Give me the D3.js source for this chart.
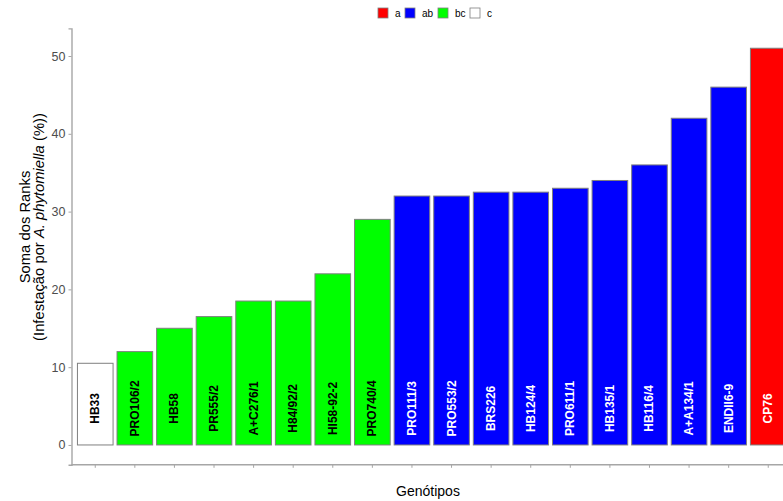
<!DOCTYPE html>
<html>
<head>
<meta charset="utf-8">
<script src="https://cdn.jsdelivr.net/npm/d3@7"></script>
<style>
  html, body { margin: 0; padding: 0; background: #fff; }
  svg { display: block; font-family: "Liberation Sans", Arial, sans-serif; }
</style>
</head>
<body>
<svg id="chart" width="783" height="501"></svg>
<script>
// Genotypes, ordered by rank sum
const genotypes = ["HB33", "PRO106/2", "HB58", "PR555/2", "A+C276/1", "H84/92/2", "HI58-92-2", "PRO740/4",
  "PRO111/3", "PRO553/2", "BRS226", "HB124/4", "PRO611/1", "HB135/1", "HB116/4", "A+A134/1", "ENDII6-9", "CP76"];
// Rank sums (infestation by A. phytomiella)
const rankSums = [10.5, 12, 15, 16.5, 18.5, 18.5, 22, 29, 32, 32, 32.5, 32.5, 33, 34, 36, 42, 46, 51];
// Statistical groups for each genotype
const groups = ["c", "bc", "bc", "bc", "bc", "bc", "bc", "bc",
  "ab", "ab", "ab", "ab", "ab", "ab", "ab", "ab", "ab", "a"];
// Legend entries and fill colours
const groupLevels = ["a", "ab", "bc", "c"];
const groupColors = ["#FF0000", "#0000FF", "#00FF00", "#FFFFFF"];
const yTicks = [0, 10, 20, 30, 40, 50];

const data = genotypes.map((g, i) => ({ name: g, value: rankSums[i], group: groups[i] }));

const svg = d3.select("#chart");
const fill = d3.scaleOrdinal().domain(groupLevels).range(groupColors);
const labelColor = d3.scaleOrdinal().domain(groupLevels).range(["#FFFFFF", "#FFFFFF", "#000000", "#000000"]);

const maxV = d3.max(rankSums);
const pad = maxV * 0.05;
const y = d3.scaleLinear().domain([-pad, maxV + pad]).range([464.8, 28.4]);
const x = d3.scaleBand().domain(genotypes).range([71.5, 792]).paddingInner(0.1).paddingOuter(0.15);

// Bars
svg.append("g").selectAll("rect").data(data).join("rect")
  .attr("x", d => x(d.name))
  .attr("width", x.bandwidth())
  .attr("y", d => y(d.value))
  .attr("height", d => y(0) - y(d.value))
  .attr("fill", d => fill(d.group))
  .attr("stroke", "#7f7f7f")
  .attr("stroke-width", 1);

// Genotype names written inside the bars
svg.append("g").selectAll("text").data(data).join("text")
  .attr("transform", d => `translate(${x(d.name) + x.bandwidth() / 2},${y(4.7)}) rotate(-90)`)
  .attr("text-anchor", "middle")
  .attr("dominant-baseline", "central")
  .attr("font-size", 12)
  .attr("font-weight", "bold")
  .attr("fill", d => labelColor(d.group))
  .text(d => d.name);

// Y axis
const yAxis = svg.append("g").attr("transform", "translate(71.5,0)")
  .call(d3.axisLeft(y).tickValues(yTicks).tickSize(3).tickPadding(3));
yAxis.select(".domain").attr("stroke", "#a6a6a6").attr("stroke-width", 1.4);
yAxis.selectAll(".tick line").attr("stroke", "#a6a6a6");
yAxis.selectAll(".tick text").attr("fill", "#4d4d4d").attr("font-size", 12.5)
  .style("font-family", "'Liberation Sans', Arial, sans-serif");

// X axis (ticks only, no labels)
const xAxis = svg.append("g").attr("transform", "translate(0,464.8)")
  .call(d3.axisBottom(x).tickSize(3).tickFormat(""));
xAxis.select(".domain").attr("stroke", "#a6a6a6").attr("stroke-width", 1.4)
  .attr("d", "M71.5,0H792");
xAxis.selectAll(".tick line").attr("stroke", "#a6a6a6");

// Axis titles
svg.append("text")
  .attr("x", 428).attr("y", 496)
  .attr("text-anchor", "middle")
  .attr("font-size", 14)
  .attr("fill", "#000")
  .text("Genótipos");

const yTitle = svg.append("text")
  .attr("transform", "translate(0,227) rotate(-90)")
  .attr("text-anchor", "middle")
  .attr("font-size", 14.8)
  .attr("fill", "#000");
yTitle.append("tspan").attr("x", 0).attr("y", 29.5).text("Soma dos Ranks");
const line2 = yTitle.append("tspan").attr("x", 0).attr("y", 43.5);
line2.append("tspan").text("(Infestação por ");
line2.append("tspan").attr("font-style", "italic").text("A. phytomiella");
line2.append("tspan").text(" (%))");

// Legend
const legendX = [378, 405, 438, 470];
const legend = svg.append("g").selectAll("g").data(groupLevels).join("g")
  .attr("transform", (d, i) => `translate(${legendX[i]},8)`);
legend.append("rect")
  .attr("width", 10).attr("height", 10)
  .attr("fill", d => fill(d))
  .attr("stroke", "#7f7f7f").attr("stroke-width", 0.8);
legend.append("text")
  .attr("x", 17).attr("y", 5)
  .attr("dominant-baseline", "central")
  .attr("font-size", 10)
  .attr("fill", "#000")
  .text(d => d);
</script>
</body>
</html>
